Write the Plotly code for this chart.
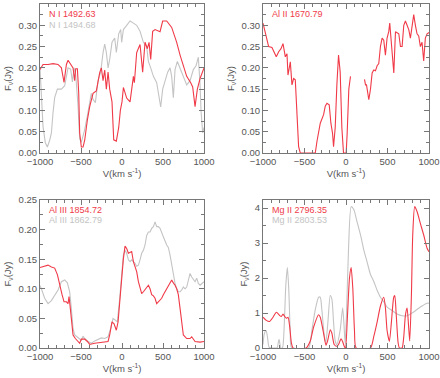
import plotly.graph_objects as go

# N I 1492.63 / 1494.68
ni_red_v = [-1000, -963, -902, -841, -780, -739, -707, -678, -658, -626, -597, -577, -565, -544, -528, -516,
            -496, -475, -455, -422, -394, -353, -313, -272, -252, -231, -211, -191, -170, -150, -122, -101,
            -69, -40, -20, 0, 17, 57, 98, 139, 151, 179, 220, 252, 281, 309, 330, 350, 374, 403, 464, 496,
            545, 606, 667, 708, 748, 789, 838, 862, 891, 919, 952, 1000]
ni_red_f = [0.196, 0.208, 0.208, 0.21, 0.208, 0.2, 0.166, 0.208, 0.218, 0.21, 0.2, 0.17, 0.198, 0.198, 0.142, 0.047,
            0.014, 0.014, 0.03, 0.078, 0.109, 0.14, 0.146, 0.189, 0.2, 0.17, 0.195, 0.15, 0.19, 0.15, 0.12, 0.031,
            0.028, 0.06, 0.10, 0.12, 0.154, 0.129, 0.12, 0.18, 0.165, 0.236, 0.255, 0.19, 0.26, 0.245, 0.26, 0.22,
            0.286, 0.29, 0.285, 0.31, 0.31, 0.295, 0.26, 0.23, 0.204, 0.18, 0.165, 0.155, 0.109, 0.15, 0.175, 0.2]

ni_grey_v = [-1000, -991, -963, -935, -910, -882, -861, -841, -821, -788, -739, -699, -678, -658, -626, -605,
             -585, -565, -536, -516, -496, -475, -455, -422, -394, -374, -353, -325, -292, -260, -231, -211,
             -191, -170, -150, -122, -89, -69, -40, -16, -4, 17, 57, 98, 139, 179, 220, 261, 301, 322, 350,
             383, 423, 456, 472, 496, 525, 557, 586, 606, 626, 647, 675, 708, 748, 789, 830, 870, 903, 931,
             952, 964, 984, 1000]
ni_grey_f = [0.2, 0.165, 0.062, 0.024, 0.014, 0.03, 0.047, 0.095, 0.13, 0.15, 0.15, 0.158, 0.18, 0.2, 0.197, 0.167,
             0.2, 0.185, 0.11, 0.033, 0.025, 0.04, 0.055, 0.088, 0.118, 0.14, 0.126, 0.118, 0.17, 0.19, 0.236, 0.256,
             0.236, 0.2, 0.22, 0.26, 0.27, 0.236, 0.28, 0.29, 0.26, 0.29, 0.30, 0.31, 0.305, 0.30, 0.286, 0.26,
             0.25, 0.215, 0.2, 0.18, 0.165, 0.13, 0.108, 0.15, 0.17, 0.19, 0.2, 0.18, 0.13, 0.196, 0.215, 0.2, 0.18,
             0.16, 0.17, 0.196, 0.205, 0.225, 0.16, 0.098, 0.047, 0.06]

# Al II 1670.79 (gap in the data between ~55 and ~220 km/s)
al2_v = [-1000, -984, -952, -932, -892, -864, -840, -811, -783, -759, -731, -711, -699, -679, -671, -651, -631,
         -611, -591, -571, -551, -370, -350, -330, -310, -270, -250, -230, -202, -182, -162, -150, -130, -110,
         -90, -70, -50, -30, 2, 14, 34, 54, 140, 223, 235, 247, 275, 295, 315, 335, 355, 375, 395, 415, 435,
         455, 475, 495, 515, 527, 543, 563, 576, 596, 616, 636, 656, 676, 696, 716, 736, 756, 776, 796, 816,
         836, 856, 876, 896, 916, 936, 956, 977, 1000]
al2_f = [0.305, 0.29, 0.266, 0.25, 0.248, 0.234, 0.226, 0.238, 0.245, 0.257, 0.226, 0.233, 0.183, 0.205, 0.214,
         0.16, 0.175, 0.172, 0.1, 0.015, 0.0, 0.0, 0.027, 0.046, 0.07, 0.09, 0.11, 0.117, 0.113, 0.07, 0.046,
         0.015, 0.06, 0.16, 0.23, 0.19, 0.06, 0.0, 0.0, 0.046, 0.15, 0.18, None, 0.173, 0.16, 0.16, 0.125, 0.15,
         0.188, 0.195, 0.193, 0.205, 0.21, 0.25, 0.27, 0.265, 0.23, 0.27, 0.285, 0.305, 0.265, 0.22, 0.188,
         0.285, 0.283, 0.28, 0.25, 0.25, 0.3, 0.31, 0.3, 0.29, 0.27, 0.3, 0.325, 0.3, 0.28, 0.275, 0.25, 0.26,
         0.216, 0.27, 0.28, 0.283]

# Al III 1854.72 / 1862.79
al3_red_v = [-1000, -963, -902, -861, -821, -788, -760, -731, -707, -678, -658, -646, -634, -618, -597, -569,
             -536, -516, -496, -455, -422, -394, -333, -252, -170, -150, -122, -97, -69, -48, -28, -8, 17, 37,
             57, 78, 98, 118, 139, 159, 179, 200, 220, 240, 261, 281, 301, 322, 342, 362, 383, 403, 423, 443,
             464, 484, 504, 525, 545, 565, 586, 606, 626, 647, 667, 687, 708, 728, 748, 789, 830, 850, 870, 891,
             952, 1000]
al3_red_f = [0.136, 0.138, 0.14, 0.137, 0.135, 0.124, 0.106, 0.09, 0.078, 0.078, 0.075, 0.087, 0.072, 0.044,
             0.022, 0.016, 0.011, 0.008, 0.015, 0.015, 0.011, 0.006, 0.008, 0.01, 0.011, 0.022, 0.044, 0.041,
             0.03, 0.044, 0.078, 0.118, 0.151, 0.172, 0.168, 0.16, 0.162, 0.163, 0.146, 0.137, 0.129, 0.112,
             0.1, 0.092, 0.095, 0.098, 0.102, 0.106, 0.1, 0.09, 0.088, 0.084, 0.075, 0.078, 0.081, 0.084, 0.09,
             0.095, 0.1, 0.106, 0.112, 0.115, 0.11, 0.106, 0.1, 0.09, 0.067, 0.044, 0.022, 0.016, 0.016, 0.019,
             0.014, 0.011, 0.01, 0.011]

al3_grey_v = [-1000, -983, -943, -902, -861, -821, -780, -739, -699, -666, -638, -618, -597, -577, -536, -496,
              -475, -455, -414, -374, -333, -292, -252, -211, -170, -138, -109, -81, -57, -28, -8, 17, 37, 57,
              78, 98, 118, 139, 159, 179, 200, 220, 240, 261, 281, 301, 322, 342, 362, 383, 403, 423, 443, 464,
              484, 504, 545, 565, 586, 606, 626, 647, 667, 687, 708, 728, 748, 769, 789, 809, 830, 850, 870, 891,
              911, 931, 952, 972, 1000]
al3_grey_f = [0.105, 0.1, 0.084, 0.075, 0.08, 0.09, 0.098, 0.112, 0.115, 0.11, 0.095, 0.067, 0.033, 0.022,
              0.018, 0.013, 0.02, 0.016, 0.011, 0.008, 0.012, 0.015, 0.017, 0.016, 0.019, 0.033, 0.05, 0.047,
              0.044, 0.084, 0.124, 0.157, 0.165, 0.16, 0.149, 0.146, 0.149, 0.146, 0.143, 0.138, 0.14, 0.149,
              0.16, 0.165, 0.174, 0.19, 0.196, 0.196, 0.202, 0.205, 0.213, 0.205, 0.205, 0.202, 0.196, 0.188,
              0.174, 0.17, 0.157, 0.14, 0.123, 0.109, 0.1, 0.095, 0.095, 0.098, 0.103, 0.1, 0.103, 0.115, 0.126,
              0.12, 0.115, 0.112, 0.118, 0.109, 0.106, 0.109, 0.112]

# Mg II 2796.35 / 2803.53
mg_red_v = [-1000, -960, -920, -879, -839, -799, -779, -759, -738, -718, -698, -678, -658, -638, -480, -431,
            -390, -330, -310, -270, -242, -222, -190, -170, -142, -110, -90, -60, -40, -20, -6, 14, 42, 62, 82,
            102, 122, 295, 335, 375, 415, 455, 475, 495, 523, 547, 575, 588, 604, 628, 644, 676, 696, 716, 736,
            756, 768, 788, 804, 828, 856, 896, 936, 977, 1000]
mg_red_f = [0.88, 0.79, 0.76, 0.88, 1.02, 0.93, 0.9, 0.97, 0.9, 0.85, 0.88, 0.6, 0.15, 0, 0, 0.2,
            0.6, 0.95, 0.88, 0.42, 0.08, 0.2, 0.52, 0.42, 0.1, 0.05, 0.1, 0.26, 0.18, 0.04, 0, 0.74, 2.0, 2.3, 1.7,
            0.5, 0, 0, 0.33, 0.74, 1.2, 1.45, 1.15, 0.5, 0.19, 0.74, 1.45, 1.5, 1.0, 0.15, 0, 0, 0.33, 0.94, 1.14,
            0.55, 0.2, 1.5, 3.23, 4.04, 3.9, 3.56, 3.23, 2.85, 2.75]

mg_grey_v = [-1000, -985, -962, -945, -925, -852, -830, -807, -785, -765, -745, -725, -706, -690, -672, -655,
             -451, -410, -370, -330, -310, -290, -262, -242, -218, -190, -170, -150, -130, -110, -70, -40, -25,
             -10, 5, 30, 62, 94, 134, 175, 215, 255, 295, 335, 375, 415, 455, 495, 556, 616, 676, 736, 796, 856,
             916, 977, 1000]
mg_grey_f = [0.1, 0.4, 0.5, 0.3, 0.02, 0, 0, 0.25, 0, 0, 0.6, 1.8, 2.3, 1.7, 0.5, 0,
             0, 0.52, 1.1, 1.45, 1.45, 1.07, 0.37, 0.18, 0.74, 1.5, 1.4, 0.74, 0.2, 0.1, 0.52, 1.15, 0.7,
             0.12, 0.9, 2.8, 4.04, 3.96, 3.6, 3.23, 2.8, 2.45, 2.1, 1.9, 1.65, 1.45, 1.32, 1.17, 1.07, 0.97, 0.92,
             0.92, 1.0, 1.1, 1.2, 1.28, 1.28]

for a, b in [(ni_red_v, ni_red_f), (ni_grey_v, ni_grey_f), (al2_v, al2_f), (al3_red_v, al3_red_f),
             (al3_grey_v, al3_grey_f), (mg_red_v, mg_red_f), (mg_grey_v, mg_grey_f)]:
    assert len(a) == len(b), (len(a), len(b))

red = "#f03a48"
grey = "#c4c4c4"
font = "Arial, Liberation Sans, sans-serif"

fig = go.Figure()

def line(x, y, color, n, shape="linear"):
    fig.add_trace(go.Scatter(
        x=x, y=y, mode="lines", line=dict(color=color, width=1.1, shape=shape, smoothing=0.6),
        xaxis="x" + ("" if n == 1 else str(n)), yaxis="y" + ("" if n == 1 else str(n)),
        showlegend=False, connectgaps=False
    ))

line(ni_grey_v, ni_grey_f, grey, 1)
line(ni_red_v, ni_red_f, red, 1)
line(al2_v, al2_f, red, 2)
line(al3_grey_v, al3_grey_f, grey, 3)
line(al3_red_v, al3_red_f, red, 3)
line(mg_grey_v, mg_grey_f, grey, 4, "spline")
line(mg_red_v, mg_red_f, red, 4, "spline")

xdom_l = [40 / 440, 204 / 440]
xdom_r = [263 / 440, 429 / 440]
ydom_t = [1 - 153 / 378, 1 - 4 / 378]
ydom_b = [1 - 348 / 378, 1 - 200 / 378]

def xax(dom, anchor):
    return dict(
        domain=dom, anchor=anchor, range=[-1000, 1000], dtick=500, tick0=0, automargin=False,
        ticks="inside", ticklen=5, tickcolor="#777", showline=True, linecolor="#777", linewidth=1,
        mirror="ticks", showgrid=False, zeroline=False,
        minor=dict(dtick=100, ticks="inside", ticklen=3, tickcolor="#777"),
        tickfont=dict(family=font, size=9.5, color="#555"),
        title=dict(text="V(km s<sup>-1</sup>)", font=dict(family=font, size=9.5, color="#555"), standoff=2),
    )

def yax(dom, anchor, rng, dtick, minor):
    return dict(
        domain=dom, anchor=anchor, range=rng, dtick=dtick, tick0=0, automargin=False,
        ticks="inside", ticklen=5, tickcolor="#777", showline=True, linecolor="#777", linewidth=1,
        mirror="ticks", showgrid=False, zeroline=False,
        minor=dict(dtick=minor, ticks="inside", ticklen=3, tickcolor="#777"),
        tickfont=dict(family=font, size=9.5, color="#555"),
        title=dict(text="F<sub>ν</sub>(Jy)", font=dict(family=font, size=9.5, color="#555"), standoff=5),
    )

fig.update_layout(
    width=440, height=378,
    margin=dict(l=0, r=0, t=0, b=0),
    paper_bgcolor="white", plot_bgcolor="white",
    xaxis=xax(xdom_l, "y"), yaxis=dict(yax(ydom_t, "x", [0, 0.35], 0.05, 0.025), tickformat=".2f"),
    xaxis2=xax(xdom_r, "y2"), yaxis2=dict(yax(ydom_t, "x2", [0, 0.35], 0.05, 0.025), tickformat=".2f"),
    xaxis3=xax(xdom_l, "y3"), yaxis3=dict(yax(ydom_b, "x3", [0, 0.25], 0.05, 0.025), tickformat=".2f"),
    xaxis4=xax(xdom_r, "y4"), yaxis4=yax(ydom_b, "x4", [0, 4.23], 1, 0.5),
)

labels = [
    ("x", "y", "N I 1492.63", red, 0), ("x", "y", "N I 1494.68", grey, 1),
    ("x2", "y2", "Al II 1670.79", red, 0),
    ("x3", "y3", "Al III 1854.72", red, 0), ("x3", "y3", "Al III 1862.79", grey, 1),
    ("x4", "y4", "Mg II 2796.35", red, 0), ("x4", "y4", "Mg II 2803.53", grey, 1),
]
for xr, yr, txt, col, row in labels:
    fig.add_annotation(
        x=0.04, y=0.93 - row * 0.068, xref=xr + " domain", yref=yr + " domain",
        xanchor="left", yanchor="middle", showarrow=False, text=txt,
        font=dict(family=font, size=9, color=col)
    )

# page body has a default 8px margin; drop it so the 440x378 figure fills the window
fig.write_html("out.html", config={"displayModeBar": False},
               post_script="document.body.style.margin='0';")
